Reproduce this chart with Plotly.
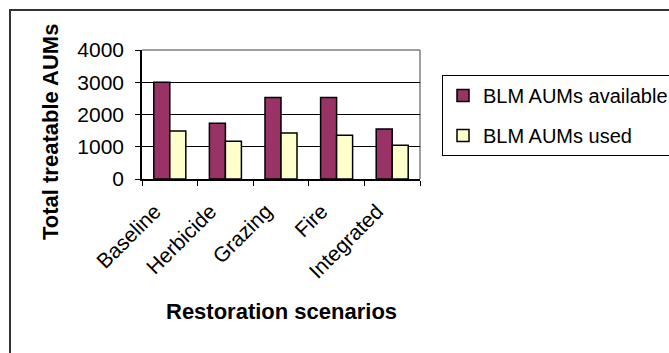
import plotly.graph_objects as go

# Restoration scenarios and BLM animal unit months (AUMs)
categories = ["Baseline", "Herbicide", "Grazing", "Fire", "Integrated"]
aums_available = [3000, 1730, 2530, 2530, 1550]
aums_used = [1490, 1170, 1430, 1360, 1050]
y_ticks = [0, 1000, 2000, 3000, 4000]

W, H = 669, 353
L, R, T, B = 142, 249, 50, 174
FONT = "Liberation Sans, Arial, sans-serif"


def px_to_paper_x(px):
    return (px - L) / (W - L - R)


def px_to_paper_y(py):
    return (H - B - py) / (H - T - B)


fig = go.Figure()
fig.add_trace(go.Bar(
    x=categories, y=aums_available, name="BLM AUMs available",
    marker=dict(color="#993366", line=dict(color="black", width=1.5)),
    legendgroup="a",
))
fig.add_trace(go.Bar(
    x=categories, y=aums_used, name="BLM AUMs used",
    marker=dict(color="#FFFFCC", line=dict(color="black", width=1.5)),
    legendgroup="b",
))

shapes = [
    # outer chart frame (top and left edges visible)
    dict(type="rect", xref="paper", yref="paper",
         x0=px_to_paper_x(10), x1=px_to_paper_x(720),
         y0=px_to_paper_y(400), y1=px_to_paper_y(10),
         line=dict(color="#333333", width=2), layer="below"),
    # plot area top and right edges
    dict(type="line", xref="paper", yref="paper", x0=0, x1=1, y0=1, y1=1,
         line=dict(color="#808080", width=1.5), layer="below"),
    dict(type="line", xref="paper", yref="paper", x0=1, x1=1, y0=0, y1=1,
         line=dict(color="#808080", width=1.5), layer="below"),
]

annotations = [
    dict(text="<b>Total treatable AUMs</b>", textangle=-90,
         xref="paper", yref="paper",
         x=px_to_paper_x(50), y=px_to_paper_y(132),
         xanchor="center", yanchor="middle", showarrow=False,
         font=dict(family=FONT, size=22, color="black")),
    dict(text="<b>Restoration scenarios</b>",
         xref="paper", yref="paper",
         x=px_to_paper_x(281), y=px_to_paper_y(311),
         xanchor="center", yanchor="middle", showarrow=False,
         font=dict(family=FONT, size=22, color="black")),
]

fig.update_layout(
    width=W, height=H,
    margin=dict(l=L, r=R, t=T, b=B, autoexpand=False),
    paper_bgcolor="white", plot_bgcolor="white",
    barmode="group", bargap=0.424, bargroupgap=0,
    font=dict(family=FONT, size=20, color="black"),
    showlegend=True,
    legend=dict(
        x=px_to_paper_x(442), y=px_to_paper_y(75),
        xanchor="left", yanchor="top",
        bordercolor="black", borderwidth=1,
        font=dict(family=FONT, size=20, color="black"),
        traceorder="grouped", tracegroupgap=11,
        itemclick=False, itemdoubleclick=False,
    ),
    shapes=shapes,
    annotations=annotations,
)

fig.update_xaxes(
    showgrid=False, showline=True, linecolor="black", linewidth=1.5,
    ticks="outside", tickson="boundaries", ticklen=5, tickcolor="black",
    tickangle=-45, ticklabelshift=-15, ticklabelstandoff=10,
    tickfont=dict(family=FONT, size=21, color="black"),
)
fig.update_yaxes(
    range=[0, 4000], tickvals=y_ticks,
    showgrid=True, gridcolor="black", gridwidth=1,
    showline=True, linecolor="black", linewidth=1.5,
    ticks="outside", ticklen=5, tickcolor="black", ticklabelstandoff=7,
    tickfont=dict(family=FONT, size=21, color="black"),
    zeroline=False,
)

fig.write_html("out.html")
